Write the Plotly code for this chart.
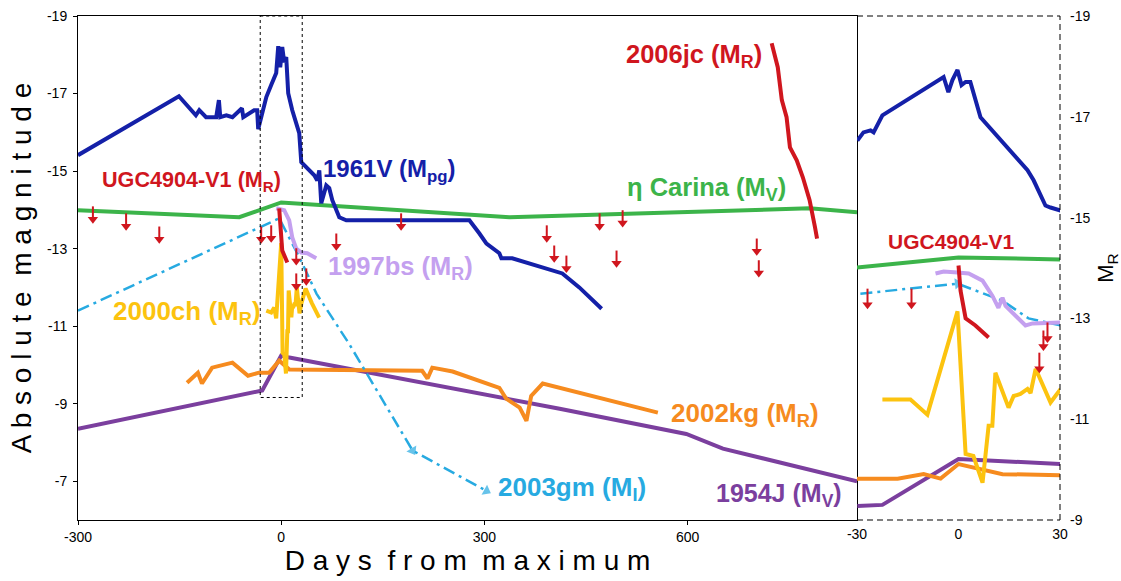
import plotly.graph_objects as go

# ---------------- main panel (days from maximum vs absolute magnitude) ----------------
sn1961v_days = [-300, -151, -126, -121, -111, -96, -92, -90, -81, -72, -58, -56, -40, -35.5, -34, -29.6,
                -22, -14.8, -7.4, -4.4, -1.5, 1.5, 4.4, 7.4, 10.3, 16.3, 26.6, 29.6, 37, 44.3, 48.8, 53.2,
                56.2, 59.1, 66.5, 70.9, 75.4, 85.7, 96, 233.5, 277.8, 292.6, 303, 322, 325, 341, 415, 440, 473]
sn1961v_mag = [-15.41, -16.93, -16.44, -16.57, -16.39, -16.39, -16.83, -16.39, -16.44, -16.39, -16.62, -16.39,
               -16.57, -16.57, -16.08, -16.39, -16.91, -17.22, -17.53, -18.22, -17.68, -18.2, -17.81, -17.94,
               -17.01, -16.57, -15.98, -15.23, -15.1, -14.97, -14.89, -14.76, -15.02, -14.17, -14.63, -14.56,
               -14.25, -13.81, -13.73, -13.73, -13.73, -13.39, -13.13, -12.88, -12.75, -12.75, -12.36, -12.0, -11.45]

etacar_days = [-300, -62, 0, 337, 780, 850]
etacar_mag = [-13.99, -13.81, -14.19, -13.81, -14.04, -13.94]

sn2006jc_days = [724, 733, 739, 746, 751, 761, 770, 780, 788, 791]
sn2006jc_mag = [-18.3, -17.68, -16.83, -16.39, -15.61, -15.28, -14.84, -14.25, -13.55, -13.26]

ugc_days = [-3, 0, 1.5, 9]
ugc_mag = [-14.04, -13.39, -12.95, -12.64]

# UGC4904-V1 upper limits (value = top of the arrow)
limit_days = [-278, -229, -180, -29.6, -14.8, 22.2, 22.2, 37, 81.3, 177, 392, 403, 421, 470, 495, 504, 702, 705]
limit_mag = [-14.09, -13.91, -13.57, -13.57, -13.6, -13.01, -12.36, -12.49, -13.39, -13.91, -13.6, -13.08,
             -12.82, -13.91, -12.95, -13.99, -13.26, -12.7]

sn1997bs_days = [-7.4, 4.4, 11.8, 16.3, 22.2, 29.6, 38.4, 51.7]
sn1997bs_mag = [-14.04, -13.99, -13.73, -13.29, -13.0, -12.9, -12.88, -12.75]

sn2003gm_days = [-300, -3, 27, 52, 100, 194, 303]
sn2003gm_mag = [-11.4, -13.78, -12.77, -11.84, -10.55, -7.79, -6.75]
sn2003gm_marked = [False, False, False, False, False, True, True]

sn2000ch_days = [-22, -14.8, -10.3, -7.4, 0, 2, 4.5, 7, 9, 10, 11, 15, 16, 18, 20, 21, 23, 27, 30, 36, 45, 56]
sn2000ch_mag = [-11.4, -11.35, -11.48, -11.2, -13.14, -10.31, -10.27, -9.78, -10.87, -10.87, -11.92, -11.23,
                -11.46, -11.5, -11.6, -11.52, -12.0, -11.33, -11.6, -11.97, -11.6, -11.22]

sn1954j_days = [-300, -28, 0, 10, 411, 598, 652, 850]
sn1954j_mag = [-8.35, -9.34, -10.24, -10.2, -8.87, -8.22, -7.84, -7.0]

sn2002kg_days = [-139, -123, -117, -102, -72, -49, -33, -18, -3, 1.5, 12, 208, 216, 223, 253, 322, 332, 352,
                 362, 369, 386, 556]
sn2002kg_mag = [-9.54, -9.8, -9.52, -9.93, -10.06, -9.72, -9.8, -9.8, -10.11, -10.03, -9.88, -9.85, -9.65,
                -9.93, -9.83, -9.41, -9.13, -8.9, -8.56, -9.2, -9.52, -8.77]

zoom_box_days = [-31, 31]
zoom_box_mag = [-19, -9.16]

# ---------------- inset panel (-30..30 days, M_R) ----------------
in_1961v_days = [-29.9, -28.1, -26, -25.1, -22.5, -4.4, -3, -1.8, -0.3, 0.9, 2.1, 3.5, 6.5, 20.4, 22.2, 25.7, 27.2, 30.2]
in_1961v_mag = [-16.53, -16.69, -16.73, -16.69, -17.03, -17.79, -17.49, -17.73, -17.93, -17.63, -17.69, -17.69,
                -16.99, -15.94, -15.74, -15.24, -15.2, -15.14]
in_etacar_days = [-30, 0, 30]
in_etacar_mag = [-14.01, -14.21, -14.17]
in_ugc_days = [0, 0.6, 2.1, 5, 8.9]
in_ugc_mag = [-14.05, -13.55, -13.0, -12.86, -12.62]
in_1997bs_days = [-6.8, -4.4, -0.3, 3, 7.1, 10, 11.8, 13, 13.9, 19.8, 21.9, 26.6, 30.2]
in_1997bs_mag = [-13.89, -13.93, -13.91, -13.89, -13.75, -13.45, -13.21, -13.41, -13.25, -12.86, -12.9, -12.92, -12.92]
in_2003gm_days = [-29, -0.3, 13, 20.7, 30.2]
in_2003gm_mag = [-13.49, -13.69, -13.35, -13.0, -12.86]
in_2003gm_marked = [False, True, False, False, False]
in_2000ch_days = [-22.5, -14.2, -9.2, -0.3, 2.1, 4.4, 7.1, 8.9, 10, 10.9, 14.8, 16.3, 18.3, 20.4, 21.3, 22.8, 27.2, 30.2]
in_2000ch_mag = [-11.39, -11.39, -11.09, -13.14, -10.31, -10.27, -9.74, -10.87, -10.87, -11.92, -11.23, -11.46,
                 -11.5, -11.6, -11.52, -12.0, -11.33, -11.6]
in_1954j_days = [-29.9, -22.5, 0, 30.2]
in_1954j_mag = [-9.28, -9.3, -10.21, -10.11]
in_2002kg_days = [-30, -18, -10.3, -5.3, 0, 13, 30.2]
in_2002kg_mag = [-9.82, -9.82, -9.91, -9.82, -10.11, -9.91, -9.89]
in_limit_days = [-26.9, -13.9, 23.9, 25.1, 26.3]
in_limit_mag = [-13.59, -13.59, -12.32, -12.76, -12.92]

main_xticks = [-300, 0, 300, 600]
main_yticks = [-19, -17, -15, -13, -11, -9, -7]
inset_xticks = [-30, 0, 30]
inset_yticks = [-19, -17, -15, -13, -11, -9]

# ---------------- styles ----------------
BLUE = "#1420a8"
GREEN = "#3cb44a"
RED = "#d0161e"
LAV = "#c4a0ef"
CYAN = "#27aae1"
YEL = "#fcc30f"
PURP = "#7b3f9e"
ORNG = "#f68b1f"
FONT = "Liberation Sans, Arial, sans-serif"

fig = go.Figure()


def line(x, y, color, xa="x", ya="y", width=4, dash=None):
    fig.add_trace(go.Scatter(x=x, y=y, mode="lines", xaxis=xa, yaxis=ya,
                             line=dict(color=color, width=width, dash=dash),
                             showlegend=False, hoverinfo="skip"))


def dashdot(x, y, marked, xa="x", ya="y"):
    fig.add_trace(go.Scatter(x=x, y=y, mode="lines+markers", xaxis=xa, yaxis=ya,
                             line=dict(color=CYAN, width=2.5, dash="12px,5px,3px,5px"),
                             marker=dict(symbol="triangle-up", angleref="previous", color=CYAN,
                                         size=[10 if m else 0 for m in marked], line=dict(width=0)),
                             showlegend=False, hoverinfo="skip"))


def limits(days, mags, stem, xa="x", ya="y"):
    # downward arrows: stem from the limit value, triangle head below it
    sx, sy, hx, hy = [], [], [], []
    for d, m in zip(days, mags):
        sx += [d, d, None]
        sy += [m, m + stem, None]
        hx.append(d)
        hy.append(m + stem)
    fig.add_trace(go.Scatter(x=sx, y=sy, mode="lines", xaxis=xa, yaxis=ya,
                             line=dict(color=RED, width=2), showlegend=False, hoverinfo="skip"))
    fig.add_trace(go.Scatter(x=hx, y=hy, mode="markers", xaxis=xa, yaxis=ya,
                             marker=dict(symbol="triangle-down", size=9, color=RED, line=dict(width=0)),
                             showlegend=False, hoverinfo="skip"))


# main panel traces
line(etacar_days, etacar_mag, GREEN)
line(sn1961v_days, sn1961v_mag, BLUE)
line(sn1954j_days, sn1954j_mag, PURP)
line(sn2002kg_days, sn2002kg_mag, ORNG)
dashdot(sn2003gm_days, sn2003gm_mag, sn2003gm_marked)
line(sn1997bs_days, sn1997bs_mag, LAV)
line(sn2000ch_days, sn2000ch_mag, YEL)
line(ugc_days, ugc_mag, RED)
line(sn2006jc_days, sn2006jc_mag, RED)
limits(limit_days, limit_mag, 0.33)

# inset traces
line(in_etacar_days, in_etacar_mag, GREEN, "x2", "y2")
line(in_1961v_days, in_1961v_mag, BLUE, "x2", "y2")
line(in_1954j_days, in_1954j_mag, PURP, "x2", "y2")
line(in_2002kg_days, in_2002kg_mag, ORNG, "x2", "y2")
dashdot(in_2003gm_days, in_2003gm_mag, in_2003gm_marked, "x2", "y2")
line(in_1997bs_days, in_1997bs_mag, LAV, "x2", "y2")
line(in_2000ch_days, in_2000ch_mag, YEL, "x2", "y2")
line(in_ugc_days, in_ugc_mag, RED, "x2", "y2")
limits(in_limit_days, in_limit_mag, 0.32, "x2", "y2")

annotations = []


def label(text, x, y, color, size, xref="x", yref="y"):
    annotations.append(dict(text=text, x=x, y=y, xref=xref, yref=yref, xanchor="left", yanchor="middle",
                            showarrow=False, font=dict(family=FONT, size=size, color=color, weight="bold")))


label("UGC4904-V1 (M<sub>R</sub>)", -268, -14.74, RED, 21.6)
label("1961V (M<sub>pg</sub>)", 59, -15.02, BLUE, 24)
label("η Carina (M<sub>V</sub>)", 507, -14.53, GREEN, 25.5)
label("2006jc (M<sub>R</sub>)", 506, -17.97, RED, 25.5)
label("1997bs (M<sub>R</sub>)", 66, -12.51, LAV, 25.5)
label("2000ch (M<sub>R</sub>)", -251, -11.35, YEL, 26)
label("2002kg (M<sub>R</sub>)", 572, -8.72, ORNG, 26)
label("2003gm (M<sub>I</sub>)", 317, -6.8, CYAN, 26)
label("1954J (M<sub>V</sub>)", 639, -6.65, PURP, 25)
label("UGC4904-V1", -21.3, -14.53, RED, 21, "x2", "y2")

shapes = [
    dict(type="rect", xref="x", yref="y", x0=zoom_box_days[0], x1=zoom_box_days[1],
         y0=zoom_box_mag[0], y1=zoom_box_mag[1], line=dict(color="black", width=1, dash="3px,3px")),
    dict(type="line", xref="x2 domain", yref="y2 domain", x0=0, x1=1, y0=1, y1=1,
         line=dict(color="black", width=1, dash="6px,4px")),
    dict(type="line", xref="x2 domain", yref="y2 domain", x0=0, x1=1, y0=0, y1=0,
         line=dict(color="black", width=1, dash="6px,4px")),
    dict(type="line", xref="x2 domain", yref="y2 domain", x0=1, x1=1, y0=0, y1=1,
         line=dict(color="black", width=1, dash="6px,4px")),
]


def spaced(s):
    return "\u00a0 ".join(" ".join(w) for w in s.split())


tickfont = dict(family=FONT, size=14, color="black")
common = dict(showgrid=False, zeroline=False, tickfont=tickfont, automargin=False)

fig.update_layout(
    width=1121, height=581,
    margin=dict(l=78, r=61, t=16, b=61, autoexpand=False),
    plot_bgcolor="white", paper_bgcolor="white", showlegend=False,
    xaxis=dict(domain=[0, 0.7933], range=[-300, 850], tickvals=main_xticks,
               ticktext=[str(v) for v in main_xticks], showline=True, linecolor="black", linewidth=1,
               mirror=True, ticks="outside", ticklen=4, tickcolor="black", ticklabelstandoff=0,
               title=dict(text=spaced("Days from maximum"), font=dict(family=FONT, size=28, color="black"),
                          standoff=5), **common),
    yaxis=dict(range=[-6, -19], tickvals=main_yticks, ticktext=[str(v) for v in main_yticks],
               showline=True, linecolor="black", linewidth=1, mirror=True, ticks="outside", ticklen=4,
               tickcolor="black", ticklabelstandoff=3,
               title=dict(text=spaced("Absolute magnitude"), font=dict(family=FONT, size=28, color="black"),
                          standoff=7), **common),
    xaxis2=dict(domain=[0.7933, 1], range=[-30, 30], anchor="y2", tickvals=inset_xticks,
                ticktext=[str(v) for v in inset_xticks], showline=False, ticks="", ticklabelstandoff=4,
                **common),
    yaxis2=dict(range=[-9, -19], anchor="x2", side="right", tickvals=inset_yticks,
                ticktext=[str(v) for v in inset_yticks], showline=False, ticks="", ticklabelstandoff=9,
                title=dict(text="M<sub>R</sub>", font=dict(family=FONT, size=22, color="black"), standoff=11),
                **common),
    annotations=annotations,
    shapes=shapes,
)

fig.write_html("out.html", config={"displayModeBar": False},
               post_script="document.body.style.margin='0';")
